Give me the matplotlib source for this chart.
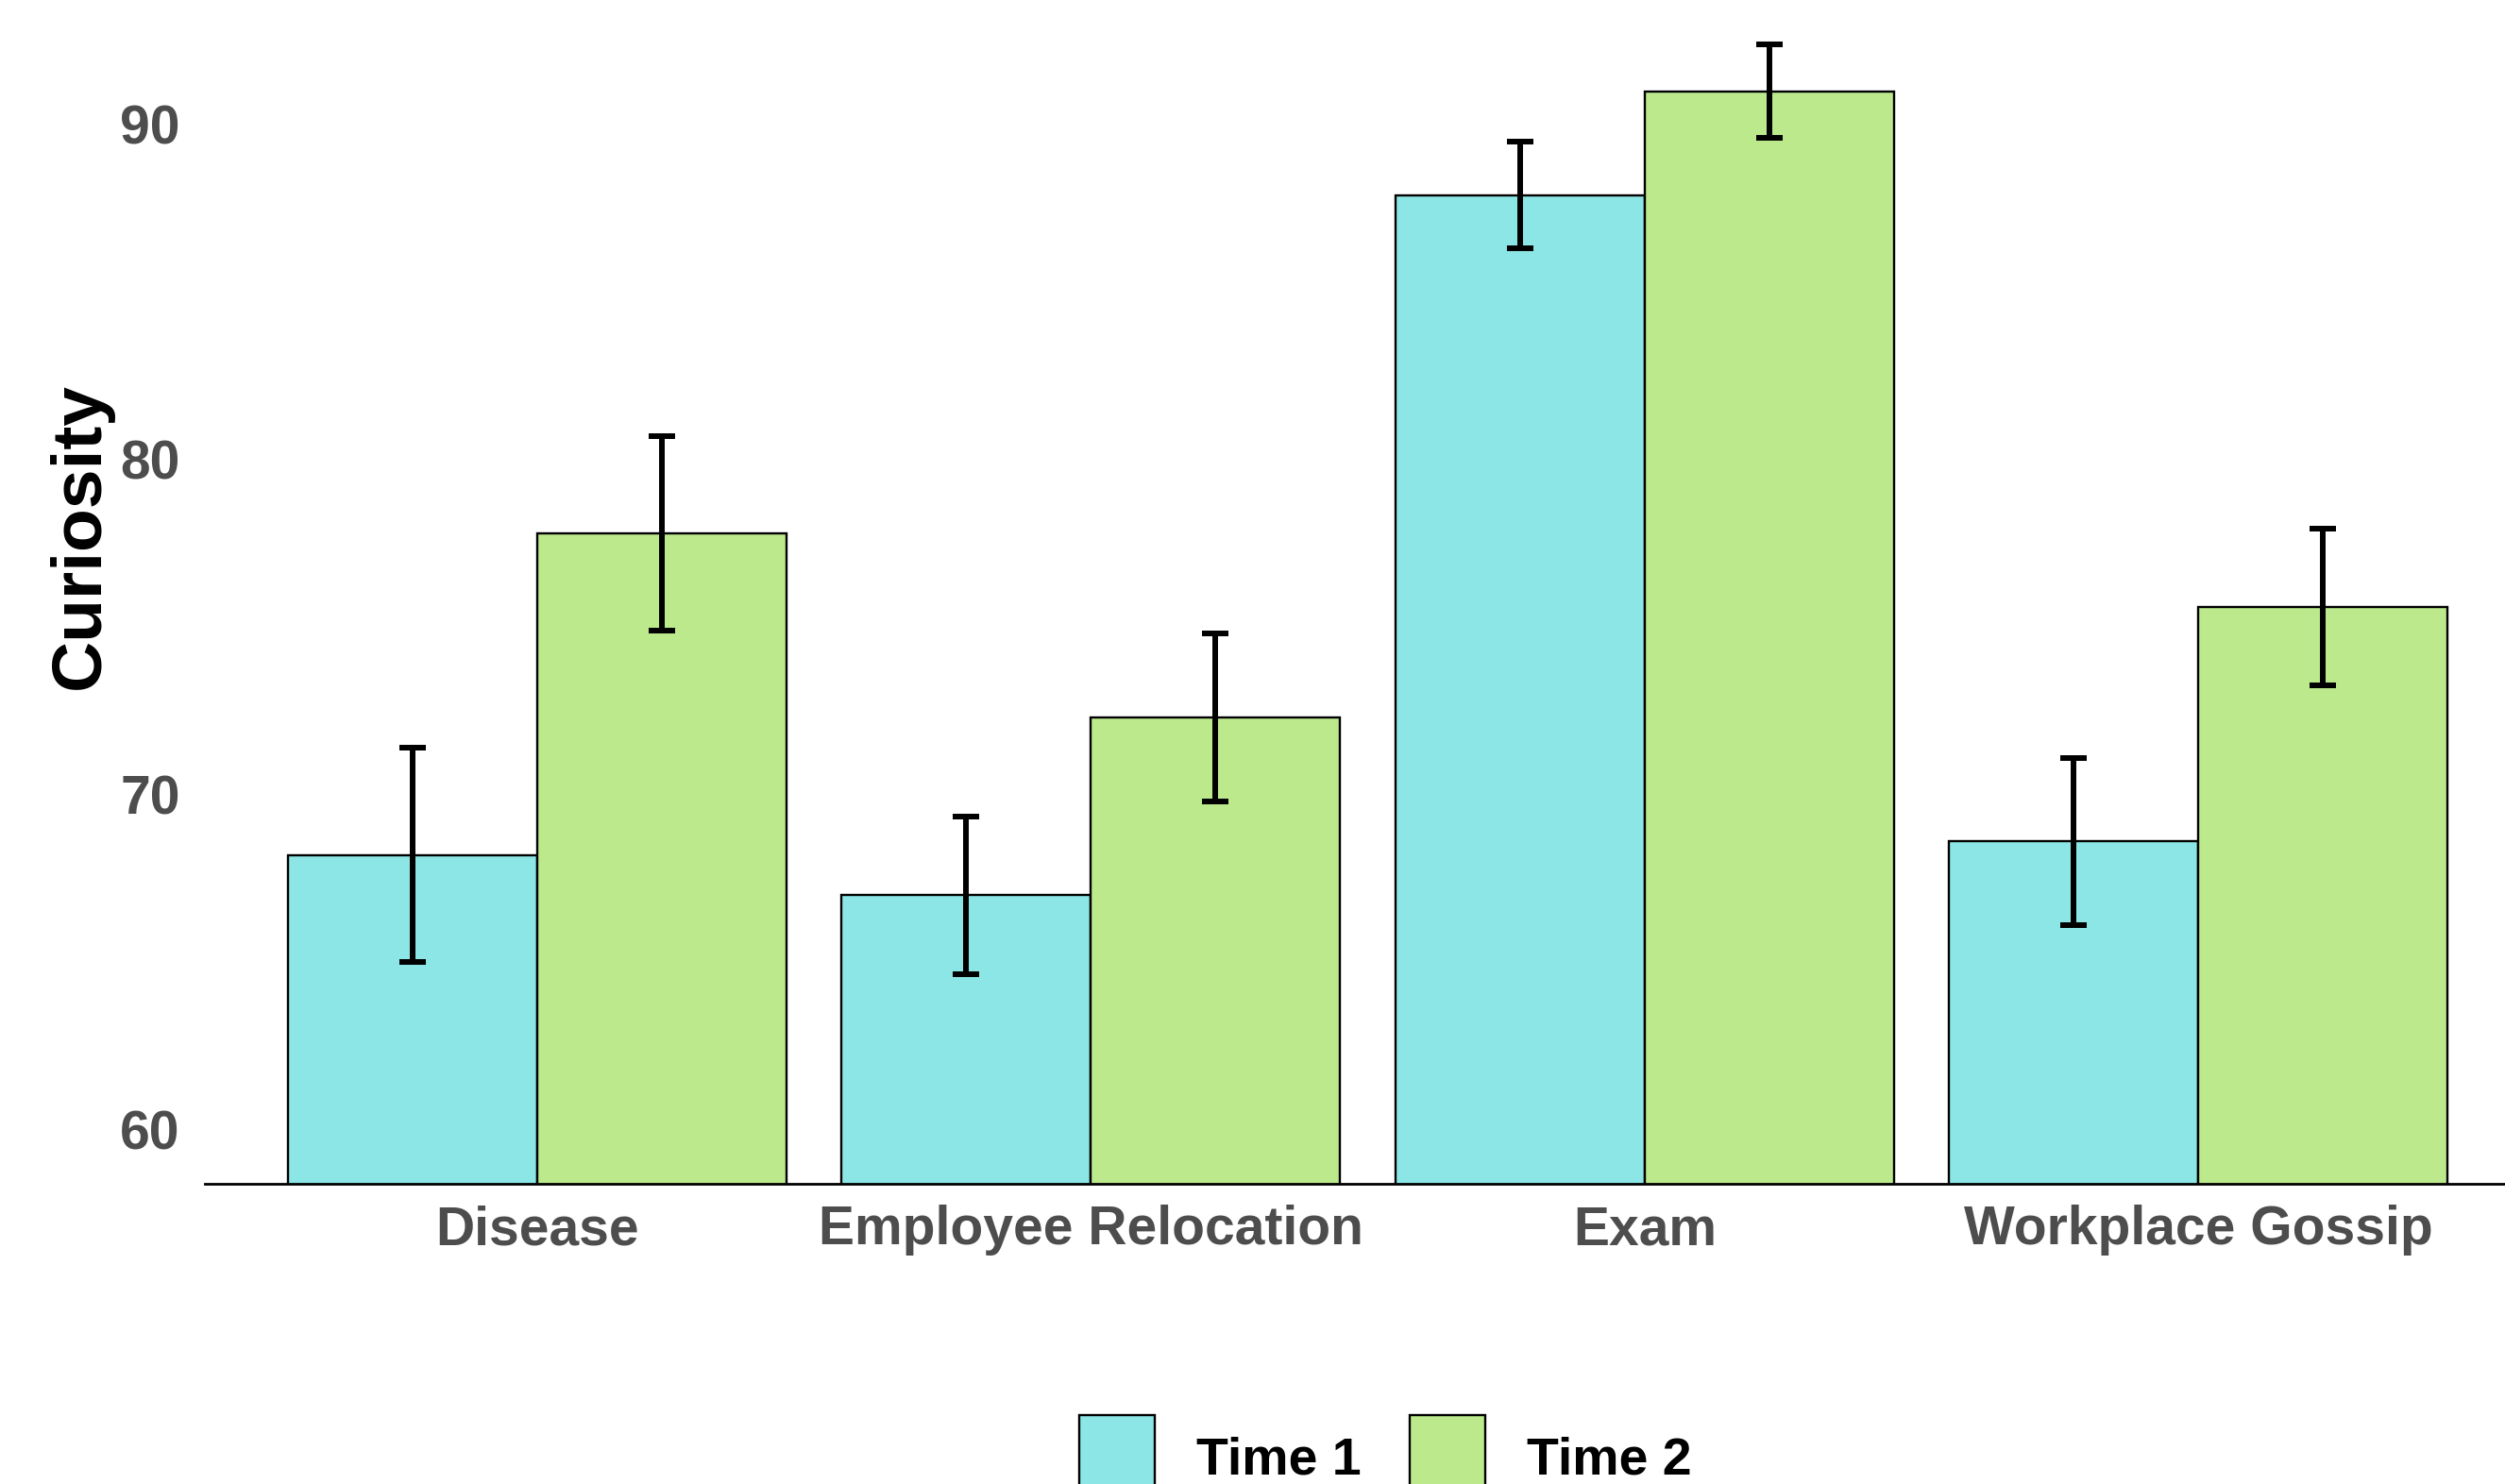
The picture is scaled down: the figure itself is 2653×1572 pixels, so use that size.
import numpy as np
import matplotlib
matplotlib.use("Agg")
import matplotlib.pyplot as plt
from matplotlib.patches import Patch

plt.rcParams["font.family"] = ["Liberation Sans", "DejaVu Sans"]

categories = ["Disease", "Employee Relocation", "Exam", "Workplace Gossip"]
time1_mean = [68.2, 67.0, 87.9, 68.6]
time1_err = [3.2, 2.35, 1.6, 2.5]
time2_mean = [77.8, 72.3, 91.0, 75.6]
time2_err = [2.9, 2.5, 1.4, 2.35]
series_labels = ["Time 1", "Time 2"]
y_ticks = [60, 70, 80, 90]

C_T1 = "#8DE6E6"
C_T2 = "#BBE98C"
TICK_GREY = "#4D4D4D"

fig = plt.figure(figsize=(26.53, 15.72), dpi=100)
ax = fig.add_axes([0.0818, 0.2023, 0.9284, 0.795])

x = np.arange(len(categories))
w = 0.45
err_kw = dict(ecolor="black", elinewidth=4.3, capsize=10, capthick=4.3)
ax.bar(x - w / 2, time1_mean, w, yerr=time1_err, color=C_T1,
       edgecolor="black", linewidth=1.7, error_kw=err_kw, zorder=2)
ax.bar(x + w / 2, time2_mean, w, yerr=time2_err, color=C_T2,
       edgecolor="black", linewidth=1.7, error_kw=err_kw, zorder=2)

ax.set_xlim(-0.6, 3.6)
ax.set_ylim(58.38, 93.6)
ax.set_xticks(x)
ax.set_xticklabels(categories)
ax.set_yticks(y_ticks)

for s in ["top", "right", "left"]:
    ax.spines[s].set_visible(False)
ax.spines["bottom"].set_linewidth(2.0)
ax.spines["bottom"].set_color("black")

ax.tick_params(axis="x", length=0, pad=16, labelsize=41, labelcolor=TICK_GREY)
ax.tick_params(axis="y", length=0, pad=19, labelsize=41, labelcolor=TICK_GREY)
for lab in ax.get_xticklabels() + ax.get_yticklabels():
    lab.set_fontweight("bold")

fig.text(85 / 2653, 1 - 567 / 1572, "Curiosity", rotation=90, ha="center",
         va="center", fontsize=54, fontweight="bold", color="black")

handles = [Patch(facecolor=C_T1, edgecolor="black", linewidth=1.7),
           Patch(facecolor=C_T2, edgecolor="black", linewidth=1.7)]
fig.legend(handles, series_labels, loc="upper center",
           bbox_to_anchor=(0.553, 1 - 1499 / 1572), ncol=2, frameon=False,
           borderpad=0, borderaxespad=0, handlelength=1.44, handleheight=2.09,
           handletextpad=0.79, columnspacing=0.92,
           prop={"weight": "bold", "size": 40})

fig.savefig("out.png", dpi=100)
